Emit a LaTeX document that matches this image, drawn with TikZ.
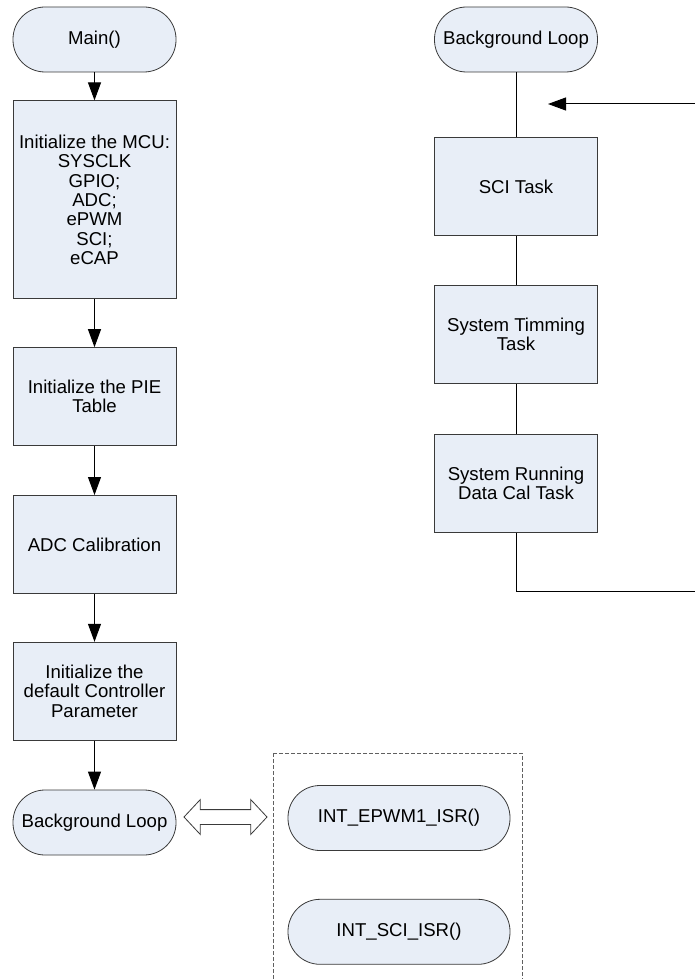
\documentclass[tikz,border=0pt]{standalone}
\usepackage{fontspec}
\setmainfont{Liberation Sans}
\usetikzlibrary{arrows.meta,positioning,shapes.arrows}
\definecolor{boxfill}{HTML}{E8EEF7}
\definecolor{edge}{HTML}{3A3A3A}
\definecolor{frame}{HTML}{606060}

\begin{document}
\begin{tikzpicture}[x=1pt,y=-1pt,font=\fontsize{18.6}{19.3}\selectfont,
task/.style={draw=edge,line width=0.8pt,fill=boxfill,minimum width=163pt,
minimum height=98pt,align=center,inner sep=2pt},
term/.style={draw=edge,line width=0.8pt,fill=boxfill,rounded corners=32pt,
minimum width=163pt,minimum height=65pt,align=center},
arr/.style={-{Triangle[length=18pt,width=13pt]},line width=1pt},
link/.style={line width=1pt},
swapper/.style={double arrow,draw=edge,line width=0.8pt,fill=white,
minimum height=83pt,inner xsep=0pt,inner ysep=7pt,
double arrow head extend=10pt,double arrow tip angle=94}]
\useasboundingbox (0,0) rectangle (695,979);
% main flow
\node[term] (main) at (94.5,39.5) {Main()};
\node[task,minimum height=198pt,below=28pt of main] (mcu) {Initialize the MCU:\\SYSCLK\\GPIO;\\ADC;\\ePWM\\SCI;\\eCAP};
\node[task,below=48pt of mcu] (pie) {Initialize the PIE\\Table};
\node[task,below=49pt of pie] (adc) {ADC Calibration};
\node[task,below=48pt of adc] (param) {Initialize the\\default Controller\\Parameter};
\node[term,below=49pt of param] (bgl) {Background Loop};
\draw[arr] (main)--(mcu);
\draw[arr] (mcu)--(pie);
\draw[arr] (pie)--(adc);
\draw[arr] (adc)--(param);
\draw[arr] (param)--(bgl);
% background loop
\node[term] (bgr) at (516,39.5) {Background Loop};
\node[task,below=65pt of bgr] (sci) {SCI Task};
\node[task,below=49pt of sci] (timing) {System Timming\\Task};
\node[task,below=50pt of timing] (datacal) {System Running\\Data Cal Task};
\coordinate (back) at (698,591);
\coordinate (far) at (698,104);
\coordinate (entry) at (548,104);
\draw[link] (bgr)--(sci);
\draw[link] (sci)--(timing);
\draw[link] (timing)--(datacal);
\draw[arr] (datacal) |- (back) -- (far) -- (entry);
% interrupts
\draw[frame,dashed,line width=0.8pt,dash pattern=on 4pt off 2pt] (273,753) rectangle (522,995);
\node[term,minimum width=222pt] (epwm) at (399,818) {INT\_EPWM1\_ISR()};
\node[term,minimum width=222pt,below=48pt of epwm] (sciisr) {INT\_SCI\_ISR()};
\node[swapper] (swap) at (225.5,817) {};
\end{tikzpicture}
\end{document}
